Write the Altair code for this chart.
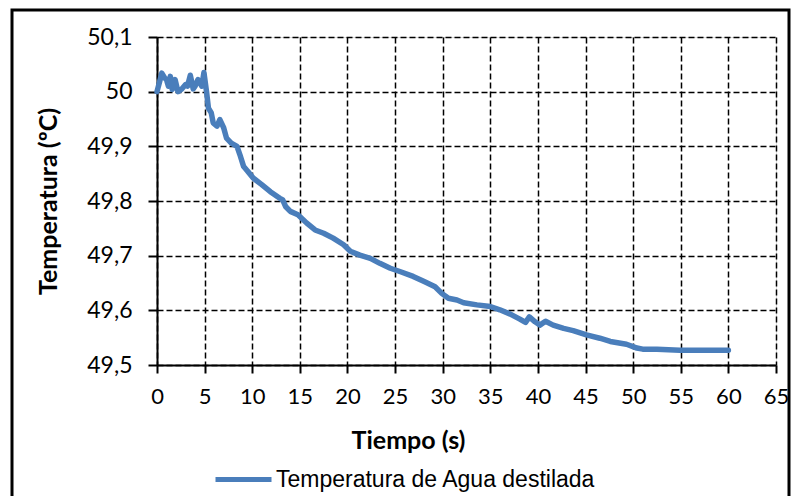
import altair as alt
import pandas as pd

tiempo = [0, 0.3, 0.5, 0.8, 1.0, 1.2, 1.4, 1.6, 1.9, 2.2, 2.6, 3.0, 3.2, 3.5, 3.8, 4.0, 4.3, 4.7, 4.93,
          5.2, 5.4, 5.7, 5.9, 6.3, 6.6, 7.0, 7.3, 7.8, 8.4, 8.7, 9.1, 9.5, 10.1, 11.0, 11.9, 12.9,
          13.2, 13.5, 14.0, 14.8, 15.7, 16.6, 17.5, 18.5, 19.6, 20.3, 21.3, 22.4, 23.4, 24.5, 25.5,
          26.9, 28.0, 29.2, 29.9, 30.6, 31.5, 32.2, 33.6, 35.0, 36.0, 37.1, 38.1, 38.7, 39.1, 39.7,
          40.2, 40.8, 41.6, 42.7, 43.7, 45.1, 46.5, 47.6, 49.3, 50.4, 51.0, 52.5, 54.9, 57.7, 60.0]
temperatura = [50.0, 50.02, 50.034, 50.025, 50.022, 50.01, 50.028, 50.004, 50.022, 50.0, 50.005,
               50.013, 50.01, 50.03, 50.005, 50.01, 50.022, 50.01, 50.035, 50.0, 49.97, 49.961,
               49.943, 49.937, 49.949, 49.934, 49.915, 49.906, 49.9, 49.885, 49.863, 49.855,
               49.842, 49.83, 49.817, 49.805, 49.802, 49.79, 49.781, 49.775, 49.76, 49.747,
               49.741, 49.732, 49.72, 49.708, 49.701, 49.695, 49.686, 49.677, 49.671, 49.662,
               49.653, 49.643, 49.631, 49.622, 49.619, 49.614, 49.61, 49.607, 49.601, 49.593,
               49.584, 49.578, 49.588, 49.579, 49.573, 49.58, 49.573, 49.567, 49.563, 49.555,
               49.549, 49.543, 49.538, 49.531, 49.529, 49.529, 49.527, 49.527, 49.527]
serie = "Temperatura de Agua destilada"
x_ticks = [0, 5, 10, 15, 20, 25, 30, 35, 40, 45, 50, 55, 60, 65]
y_ticks = [49.5, 49.6, 49.7, 49.8, 49.9, 50.0, 50.1]

df = pd.DataFrame({"t": tiempo, "T": temperatura, "s": [serie] * len(tiempo)})

W, H = 619, 328
tick_font = "Lato"
grid = dict(grid=True, gridColor="black", gridDash=[6, 3], gridWidth=1.5, gridOpacity=1)

line = alt.Chart(df).mark_line(strokeWidth=5.5, strokeCap="round", strokeJoin="round").encode(
    x=alt.X("t:Q", scale=alt.Scale(domain=[0, 65], nice=False),
            axis=alt.Axis(values=x_ticks, title="Tiempo (s)", domain=True, domainColor="black",
                          domainWidth=2, tickColor="black", tickWidth=2, tickSize=8,
                          labelFont=tick_font, labelFontSize=22, labelColor="black", labelPadding=13,
                          labelFlush=False,
                          titleFont=tick_font, titleFontSize=25, titleFontWeight="bold",
                          titleColor="black", titleX=251, titleY=75, titleAlign="center",
                          titleBaseline="middle", titleAnchor="start", **grid)),
    y=alt.Y("T:Q", scale=alt.Scale(domain=[49.5, 50.1], nice=False, zero=False),
            axis=alt.Axis(values=y_ticks, title="Temperatura (ºC)", domain=True, domainColor="black",
                          domainWidth=2, tickColor="black", tickWidth=2, tickSize=9,
                          labelExpr="replace(toString(round(datum.value*10)/10), '.', ',')",
                          labelFont=tick_font, labelFontSize=23, labelColor="black", labelPadding=16,
                          labelFlush=False,
                          titleFont=tick_font, titleFontSize=25, titleFontWeight="bold",
                          titleColor="black", titleX=-109, titleY=H / 2, titleAngle=-90,
                          titleAlign="center", titleBaseline="middle", titleAnchor="start", **grid)),
    color=alt.Color("s:N", scale=alt.Scale(domain=[serie], range=["#4A7EBB"]),
                    legend=alt.Legend(title=None, orient="none", legendX=56, legendY=412,
                                      padding=0,
                                      symbolType="stroke", symbolSize=3136, symbolStrokeWidth=5,
                                      labelFont="Liberation Sans", labelFontSize=23,
                                      labelLimit=600, labelColor="black", labelOffset=2)),
)

frame = alt.Chart(alt.Data(values=[{"a": 1}])).mark_rect(
    filled=False, stroke="black", strokeWidth=3, clip=False
).encode(
    x=alt.value(-145), x2=alt.value(632), y=alt.value(-27), y2=alt.value(480)
)

chart = alt.layer(line, frame).properties(
    width=W, height=H,
    autosize=alt.AutoSizeParams(type="none"),
    padding={"left": 157, "top": 37, "right": 17, "bottom": 131},
).configure_view(stroke=None).configure(background="white")

chart.save("out.html", embed_options={"renderer": "svg", "actions": False})
